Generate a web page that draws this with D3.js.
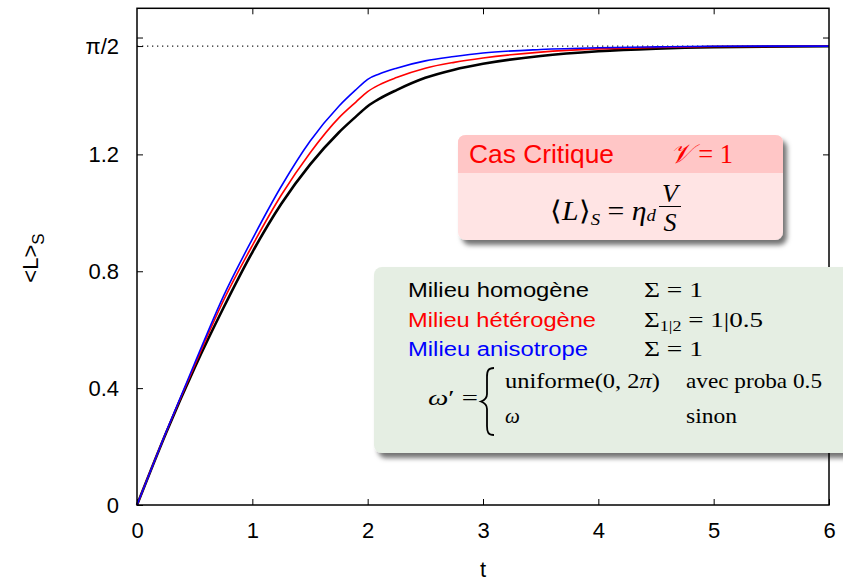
<!DOCTYPE html>
<html>
<head>
<meta charset="utf-8">
<script src="https://cdn.jsdelivr.net/npm/d3@7"></script>
<style>
  body { margin: 0; background: #fff; }
  svg { display: block; font-family: "Liberation Sans", Arial, sans-serif; }
</style>
</head>
<body>
<script>
// values
const tValues    = [0, 0.25, 0.5, 0.75, 1, 1.25, 1.5, 1.75, 1.9, 2, 2.1, 2.25, 2.5, 2.75, 3, 3.5, 4, 4.5, 5, 6]
const homogene   = [0, 0.245, 0.47, 0.675, 0.865, 1.03, 1.165, 1.275, 1.33, 1.365, 1.39, 1.42, 1.462, 1.49, 1.51, 1.537, 1.553, 1.562, 1.567, 1.570]
const heterogene = [0, 0.247, 0.478, 0.70, 0.888, 1.06, 1.205, 1.325, 1.38, 1.415, 1.438, 1.463, 1.495, 1.515, 1.53, 1.55, 1.561, 1.566, 1.569, 1.5705]
const anisotrope = [0, 0.248, 0.485, 0.715, 0.91, 1.09, 1.245, 1.365, 1.422, 1.457, 1.475, 1.495, 1.52, 1.535, 1.547, 1.559, 1.565, 1.568, 1.570, 1.5707]

const xTicks = [0, 1, 2, 3, 4, 5, 6]
const yTicks = [0, 0.4, 0.8, 1.2, 1.6]
const yTickLabels = ['0', '0.4', '0.8', '1.2', '']
const piHalf = Math.PI / 2

const w = 843
const h = 581

const svg = d3.select('body')
    .append('svg')
    .attr('width', w)
    .attr('height', h)

const x = d3.scaleLinear()
    .domain([0, 6])
    .range([137, 829])

const y = d3.scaleLinear()
    .domain([0, 1.7])
    .range([505, 8.3])

const defs = svg.append('defs')
defs.append('filter')
    .attr('id', 'shadow')
    .attr('x', '-10%').attr('y', '-10%')
    .attr('width', '130%').attr('height', '140%')
    .append('feDropShadow')
    .attr('dx', 4).attr('dy', 5)
    .attr('stdDeviation', 2.5)
    .attr('flood-color', '#000')
    .attr('flood-opacity', 0.55)

// dotted pi/2 reference line
svg.append('line')
    .attr('x1', x(0)).attr('x2', x(6))
    .attr('y1', y(piHalf)).attr('y2', y(piHalf))
    .attr('stroke', '#222')
    .attr('stroke-width', 1.2)
    .attr('stroke-dasharray', '1.3,3.7')

// axes, gnuplot style: inward ticks, mirrored
const fontSize = 22

const xAxis = d3.axisBottom(x)
    .tickValues(xTicks)
    .tickFormat(d3.format('d'))
    .tickSizeInner(-6).tickSizeOuter(0)
    .tickPadding(17)

const yAxis = d3.axisLeft(y)
    .tickValues(yTicks.concat([piHalf]))
    .tickFormat(d => d === piHalf ? 'π/2' : yTickLabels[yTicks.indexOf(d)])
    .tickSizeInner(-6).tickSizeOuter(0)
    .tickPadding(18)

const gx = svg.append('g')
    .attr('transform', `translate(0, ${y(0)})`)
    .call(xAxis)
gx.select('.domain').remove()

const gy = svg.append('g')
    .attr('transform', `translate(${x(0)}, 0)`)
    .call(yAxis)
gy.select('.domain').remove()

svg.append('g')
    .attr('transform', `translate(0, ${y(1.7)})`)
    .call(d3.axisTop(x).tickValues(xTicks.slice(1, -1)).tickSizeInner(-6).tickSizeOuter(0).tickFormat(''))
    .select('.domain').remove()

svg.append('g')
    .attr('transform', `translate(${x(6)}, 0)`)
    .call(d3.axisRight(y).tickValues(yTicks.slice(1)).tickSizeInner(-6).tickSizeOuter(0).tickFormat(''))
    .select('.domain').remove()

svg.selectAll('.tick text')
    .attr('font-size', fontSize)
    .attr('font-family', '"Liberation Sans", Arial, sans-serif')
    .attr('fill', '#000')
svg.selectAll('.tick line').attr('stroke', '#000').attr('stroke-width', 1)

// curves
const series = [
    { values: homogene,   color: '#000',    width: 2.6 },
    { values: heterogene, color: '#ff0000', width: 1.6 },
    { values: anisotrope, color: '#0000ff', width: 1.6 }
]

const line = d3.line()
    .x((d, i) => x(tValues[i]))
    .y(d => y(d))
    .curve(d3.curveMonotoneX)

svg.selectAll('path.curve')
    .data(series)
    .enter()
    .append('path')
    .attr('class', 'curve')
    .attr('d', d => line(d.values))
    .attr('fill', 'none')
    .attr('stroke', d => d.color)
    .attr('stroke-width', d => d.width)
    .attr('stroke-linejoin', 'round')

// frame
svg.append('rect')
    .attr('x', x(0)).attr('y', y(1.7))
    .attr('width', x(6) - x(0))
    .attr('height', y(0) - y(1.7))
    .attr('fill', 'none')
    .attr('stroke', '#000')
    .attr('stroke-width', 1.5)

// axis titles
svg.append('text')
    .attr('x', (x(0) + x(6)) / 2)
    .attr('y', 577)
    .attr('text-anchor', 'middle')
    .attr('font-size', fontSize)
    .text('t')

const yl = svg.append('text')
    .attr('transform', 'translate(38, 258) rotate(-90)')
    .attr('text-anchor', 'middle')
    .attr('font-size', fontSize)
yl.append('tspan').text('<L>')
yl.append('tspan').attr('font-size', 17).attr('dy', 6).text('S')

// box 1 : cas critique
const serif = '"Liberation Serif", "Times New Roman", serif'
const b1 = svg.append('g')
b1.append('rect')
    .attr('x', 458).attr('y', 135)
    .attr('width', 325).attr('height', 105)
    .attr('rx', 8)
    .attr('fill', '#ffe4e4')
    .attr('filter', 'url(#shadow)')
b1.append('path')
    .attr('d', 'M458,173 L458,143 Q458,135 466,135 L775,135 Q783,135 783,143 L783,173 Z')
    .attr('fill', '#ffc6c6')

b1.append('text')
    .attr('x', 469).attr('y', 163)
    .attr('font-size', 25)
    .attr('fill', '#ff0000')
    .attr('textLength', 145)
    .attr('lengthAdjust', 'spacingAndGlyphs')
    .text('Cas Critique')

const v1 = b1.append('text')
    .attr('x', 670).attr('y', 163)
    .attr('font-family', serif)
    .attr('font-size', 27)
    .attr('fill', '#ff0000')
    .attr('textLength', 63)
    .attr('lengthAdjust', 'spacingAndGlyphs')
v1.append('tspan').attr('font-style', 'italic').text('𝒱')
v1.append('tspan').text(' = 1')

const f1 = b1.append('text')
    .attr('x', 550).attr('y', 220)
    .attr('font-family', serif)
    .attr('font-size', 27)
    .attr('fill', '#000')
    .attr('textLength', 106)
    .attr('lengthAdjust', 'spacingAndGlyphs')
f1.append('tspan').text('⟨')
f1.append('tspan').attr('font-style', 'italic').text('L')
f1.append('tspan').text('⟩')
f1.append('tspan').attr('font-style', 'italic').attr('font-size', 17).attr('dy', 5).text('S')
f1.append('tspan').attr('dy', -5).text(' = ')
f1.append('tspan').attr('font-style', 'italic').text('η')
f1.append('tspan').attr('font-style', 'italic').attr('font-size', 17).attr('dy', 1).text('d')

b1.append('text')
    .attr('x', 670).attr('y', 201.5)
    .attr('text-anchor', 'middle')
    .attr('font-family', serif).attr('font-style', 'italic')
    .attr('font-size', 26)
    .text('V')
b1.append('line')
    .attr('x1', 659).attr('x2', 681)
    .attr('y1', 206.5).attr('y2', 206.5)
    .attr('stroke', '#000').attr('stroke-width', 1)
b1.append('text')
    .attr('x', 670).attr('y', 231)
    .attr('text-anchor', 'middle')
    .attr('font-family', serif).attr('font-style', 'italic')
    .attr('font-size', 26)
    .text('S')

// box 2 : milieux
const b2 = svg.append('g')
b2.append('rect')
    .attr('x', 374).attr('y', 267)
    .attr('width', 520).attr('height', 186)
    .attr('rx', 8)
    .attr('fill', '#e5eee3')
    .attr('filter', 'url(#shadow)')

const milieux = ['Milieu homogène', 'Milieu hétérogène', 'Milieu anisotrope']
const milieuColors = ['#000', '#ff0000', '#0000ff']
const milieuWidths = [181, 188, 180]
const milieuY = [297, 327, 356]

b2.selectAll('text.milieu')
    .data(milieux)
    .enter()
    .append('text')
    .attr('class', 'milieu')
    .attr('x', 408)
    .attr('y', (d, i) => milieuY[i])
    .attr('font-size', 20)
    .attr('fill', (d, i) => milieuColors[i])
    .attr('textLength', (d, i) => milieuWidths[i])
    .attr('lengthAdjust', 'spacingAndGlyphs')
    .text(d => d)

const s1 = b2.append('text').attr('x', 644).attr('y', 297).attr('font-family', serif).attr('font-size', 21)
    .attr('textLength', 59).attr('lengthAdjust', 'spacingAndGlyphs')
s1.text('Σ = 1')
const s2 = b2.append('text').attr('x', 644).attr('y', 327).attr('font-family', serif).attr('font-size', 21)
    .attr('textLength', 119).attr('lengthAdjust', 'spacingAndGlyphs')
s2.append('tspan').text('Σ')
s2.append('tspan').attr('font-size', 14).attr('dy', 4).text('1|2')
s2.append('tspan').attr('dy', -4).text(' = 1|0.5')
const s3 = b2.append('text').attr('x', 644).attr('y', 356).attr('font-family', serif).attr('font-size', 21)
    .attr('textLength', 59).attr('lengthAdjust', 'spacingAndGlyphs')
s3.text('Σ = 1')

const om = b2.append('text').attr('x', 428).attr('y', 405).attr('font-family', serif).attr('font-size', 21)
    .attr('textLength', 50).attr('lengthAdjust', 'spacingAndGlyphs')
om.append('tspan').attr('font-style', 'italic').text('ω')
om.append('tspan').text('′ =')

b2.append('path')
    .attr('d', 'M494,368 C488,368 487,371 487,377 L487,394 C487,398 485,400 481,401.5 C485,403 487,405 487,409 L487,426 C487,432 488,435 494,435')
    .attr('fill', 'none')
    .attr('stroke', '#000')
    .attr('stroke-width', 1.8)

const u = b2.append('text').attr('x', 505).attr('y', 388).attr('font-family', serif).attr('font-size', 21)
    .attr('textLength', 155).attr('lengthAdjust', 'spacingAndGlyphs')
u.append('tspan').text('uniforme(0, 2')
u.append('tspan').attr('font-style', 'italic').text('π')
u.append('tspan').text(')')
b2.append('text').attr('x', 686).attr('y', 388).attr('font-family', serif).attr('font-size', 21)
    .attr('textLength', 136).attr('lengthAdjust', 'spacingAndGlyphs')
    .text('avec proba 0.5')
b2.append('text').attr('x', 505).attr('y', 423).attr('font-family', serif).attr('font-size', 21)
    .attr('font-style', 'italic')
    .text('ω')
b2.append('text').attr('x', 686).attr('y', 423).attr('font-family', serif).attr('font-size', 21)
    .attr('textLength', 51).attr('lengthAdjust', 'spacingAndGlyphs')
    .text('sinon')
</script>
</body>
</html>
